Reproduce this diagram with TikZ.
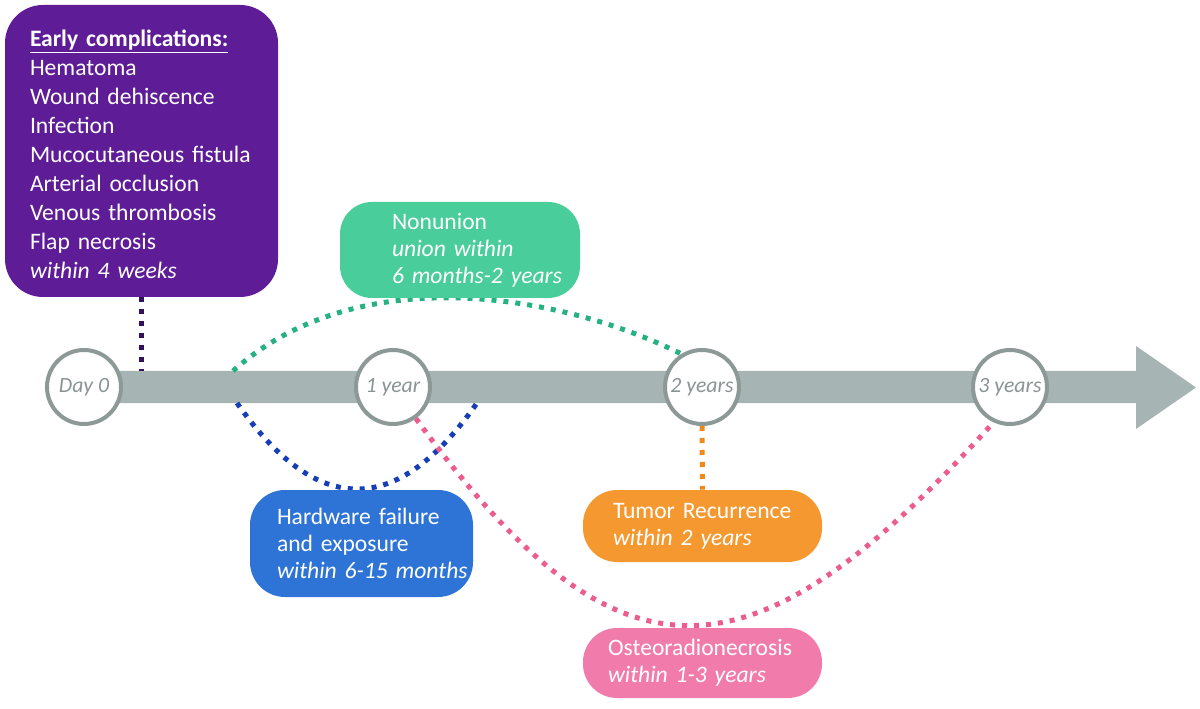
\documentclass[tikz,border=0pt]{standalone}
\usepackage{fontspec}
\setmainfont{Carlito}
\definecolor{cpurple}{RGB}{94,29,150}
\definecolor{cpurpled}{RGB}{50,18,90}
\definecolor{cgreen}{RGB}{72,205,155}
\definecolor{cgreend}{RGB}{38,178,128}
\definecolor{cblue}{RGB}{46,116,214}
\definecolor{cblued}{RGB}{22,62,182}
\definecolor{corange}{RGB}{246,152,48}
\definecolor{coranged}{RGB}{240,136,28}
\definecolor{cpink}{RGB}{241,124,172}
\definecolor{cpinkd}{RGB}{236,92,142}
\definecolor{cbar}{RGB}{166,181,179}
\definecolor{ccircle}{RGB}{140,153,151}
\definecolor{ctext}{RGB}{138,148,148}
\tikzset{
  box/.style={draw=none, text=white, inner sep=0pt, align=left,
    font=\fontsize{17.7}{20.25}\selectfont},
  tick/.style={circle, draw=ccircle, line width=3pt, fill=white,
    minimum size={74*0.75pt}, inner sep=0pt, text=ctext,
    font=\fontsize{16.3}{18}\selectfont\itshape},
  dotline/.style={line width=3.75pt, dash pattern=on 3.75pt off 5.25pt},
}
\begin{document}
\begin{tikzpicture}[x=0.75pt,y=-0.75pt]
\useasboundingbox (0,0) rectangle (1200,709);
% timeline arrow
\fill[cbar] (84,371) -- (1136,371) -- (1136,346) -- (1196,387.5) -- (1136,429) -- (1136,403) -- (84,403) -- cycle;
% year marks
\node[tick] (d0) at (84,387) {Day 0};
\node[tick] (y1) at (393,387) {1 year};
\node[tick] (y2) at (702,387) {2 years};
\node[tick] (y3) at (1010,387) {3 years};
% free ends of connectors
\coordinate (gs) at (233,371);
\coordinate (bs) at (237,403);
\coordinate (be) at (477,403);
% connectors
\draw[dotline, cgreend] (gs) .. controls (357,259.4) and (560,293.5) .. (y2.122);
\draw[dotline, cblued] (bs) .. controls (317,517.7) and (397,517.7) .. (be);
\draw[dotline, cpinkd] (y1.-54) .. controls (616,693) and (748,695) .. (y3.-115);
% boxes
\node[box, fill=cpurple, minimum width={273*0.75pt}, minimum height={292*0.75pt},
  text width={223*0.75pt}, rounded corners={38*0.75pt},
  font=\fontsize{17.7}{21.75}\selectfont] (early) at (141.5,151)
  {\rule{0pt}{17.5pt}\textbf{\underline{Early complications:}}\\
   Hematoma\\
   Wound dehiscence\\
   Infection\\
   \mbox{Mucocutaneous fistula}\\
   Arterial occlusion\\
   Venous thrombosis\\
   Flap necrosis\\
   \textit{within 4 weeks}};
\node[box, fill=cgreen, minimum width={240*0.75pt}, minimum height={96*0.75pt},
  text width={136*0.75pt}, rounded corners={32*0.75pt}] (non) at (460,250)
  {Nonunion\\ \mbox{\textit{union within}}\\ \mbox{\textit{6 months-2 years}}};
\node[box, fill=cblue, minimum width={223*0.75pt}, minimum height={107*0.75pt},
  text width={169*0.75pt}, rounded corners={35*0.75pt}] (hw) at (361.5,543.5)
  {\mbox{Hardware failure}\\ \mbox{and exposure}\\ \mbox{\textit{within 6-15 months}}};
\node[box, fill=corange, minimum width={239*0.75pt}, minimum height={72*0.75pt},
  text width={179*0.75pt}, rounded corners={34*0.75pt}] (tum) at (702.5,526)
  {\mbox{Tumor Recurrence}\\ \mbox{\textit{within 2 years}}};
\node[box, fill=cpink, minimum width={239*0.75pt}, minimum height={70*0.75pt},
  text width={189*0.75pt}, rounded corners={34*0.75pt}] (ost) at (702.5,663)
  {\mbox{Osteoradionecrosis}\\ \mbox{\textit{within 1-3 years}}};
% vertical connectors
\coordinate (pe) at (141.5,371);
\draw[dotline, cpurpled] (early.south) -- (pe);
\draw[dotline, coranged] (y2.south) -- (tum.north);
\end{tikzpicture}
\end{document}
